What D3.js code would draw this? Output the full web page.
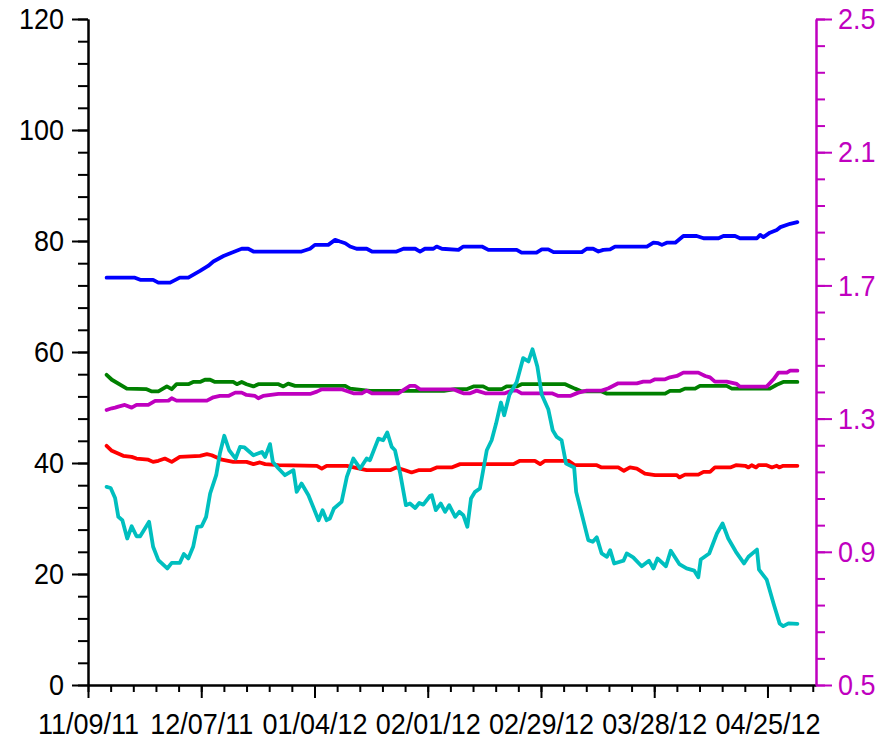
<!DOCTYPE html>
<html>
<head>
<meta charset="utf-8">
<script src="https://cdn.jsdelivr.net/npm/d3@7"></script>
<style>
  html, body { margin: 0; padding: 0; background: #fff; }
  svg { display: block; }
  text { font-family: "Liberation Sans", Arial, sans-serif; }
</style>
</head>
<body>
<svg id="chart" width="885" height="741"></svg>
<script>
// ---- data (day offset from 11/09/11, value) ----
const startDate = "2011-11-09";
const spanDays = 180;
const xTickDays = [0, 28, 56, 84, 112, 140, 168];
const leftTicks = [0, 20, 40, 60, 80, 100, 120];
const rightTicks = [0.5, 0.9, 1.3, 1.7, 2.1, 2.5];

const blueSeries = [
  [4.6,73.4],[11.6,73.4],[12.9,73.0],[16.1,73.0],[17.4,72.5],[20.3,72.5],[22.7,73.4],[24.8,73.4],
  [27.7,74.6],[29.7,75.5],[31.0,76.3],[33.5,77.3],[35.5,77.9],[38.0,78.6],[39.6,78.6],[40.9,78.1],
  [52.8,78.1],[54.9,78.6],[56.1,79.3],[59.4,79.3],[61.1,80.2],[62.3,79.9],[63.6,79.6],[64.8,79.0],
  [66.4,78.6],[68.9,78.6],[70.2,78.1],[76.3,78.1],[78.0,78.6],[80.9,78.6],[82.1,78.1],[83.3,78.6],
  [85.4,78.6],[86.2,79.0],[87.5,78.6],[91.6,78.4],[92.8,79.0],[97.4,79.0],[99.0,78.4],[106.0,78.4],
  [107.2,77.9],[110.9,77.9],[112.2,78.5],[113.8,78.5],[115.1,78.0],[122.1,78.0],[123.3,78.6],
  [124.9,78.6],[126.2,78.1],[127.4,78.4],[129.1,78.5],[130.3,79.0],[138.2,79.0],[139.8,79.7],
  [141.0,79.6],[141.9,79.3],[143.1,79.7],[145.2,79.7],[147.2,80.9],[150.5,80.9],[152.2,80.5],
  [155.9,80.5],[157.1,80.9],[160.0,80.9],[161.2,80.5],[165.4,80.5],[166.2,81.1],[167.0,80.7],
  [168.6,81.5],[170.3,82.0],[171.2,82.5],[173.6,83.1],[175.4,83.4]
];

const greenSeries = [
  [4.6,55.9],[5.9,55.0],[9.6,53.4],[14.5,53.3],[15.8,52.9],[17.4,52.9],[19.5,53.8],[20.7,53.3],
  [21.9,54.2],[24.8,54.2],[26.0,54.6],[27.7,54.6],[28.9,55.0],[30.2,55.0],[31.4,54.6],[35.9,54.6],
  [36.8,54.2],[38.0,54.6],[39.2,54.2],[40.9,53.8],[42.1,54.2],[47.1,54.2],[48.3,53.8],[49.5,54.3],
  [51.2,53.9],[63.6,53.9],[64.8,53.4],[69.7,53.0],[88.0,53.0],[90.8,53.3],[93.6,53.3],[95.3,53.8],
  [97.7,53.8],[99.0,53.3],[102.3,53.3],[103.5,53.8],[106.0,53.8],[107.2,54.2],[118.0,54.2],
  [119.2,53.8],[120.4,53.4],[122.1,52.9],[127.0,52.9],[128.3,52.5],[142.7,52.5],[143.9,53.0],
  [146.4,53.0],[147.6,53.4],[150.1,53.4],[151.3,53.9],[157.9,53.9],[159.2,53.4],[168.6,53.4],
  [170.3,54.1],[171.9,54.6],[175.4,54.6]
];

const redSeries = [
  [4.6,43.1],[5.9,42.2],[8.7,41.3],[10.8,41.1],[12.0,40.8],[14.9,40.6],[16.1,40.2],[17.4,40.4],
  [19.0,40.8],[20.7,40.2],[22.7,41.1],[27.7,41.3],[29.4,41.6],[30.6,41.4],[33.1,40.6],[35.9,40.2],
  [39.2,40.2],[40.9,39.8],[42.5,40.1],[43.8,39.8],[47.1,39.6],[56.6,39.5],[57.8,39.0],[59.0,39.5],
  [64.0,39.5],[68.9,38.7],[74.7,38.7],[76.2,39.2],[78.4,38.7],[80.0,38.3],[81.7,38.7],[84.6,38.7],
  [86.2,39.2],[89.9,39.2],[92.0,39.8],[105.2,39.8],[106.8,40.4],[110.5,40.4],[111.8,39.8],
  [113.0,40.4],[118.8,40.4],[120.4,39.6],[125.8,39.6],[127.0,39.2],[131.1,39.2],[132.5,38.6],
  [134.0,39.2],[135.7,39.0],[137.7,38.1],[140.2,37.8],[145.6,37.8],[146.2,37.4],[147.6,37.9],
  [150.9,37.9],[152.2,38.4],[153.8,38.4],[155.0,39.2],[158.8,39.2],[160.2,39.6],[162.5,39.5],
  [163.3,39.2],[164.1,39.6],[165.2,39.2],[165.8,39.6],[167.8,39.6],[169.1,39.2],[170.3,39.5],
  [170.9,39.2],[171.9,39.5],[175.4,39.5]
];

const cyanSeries = [
  [4.6,35.7],[5.6,35.5],[6.7,33.7],[7.5,30.3],[8.5,29.7],[9.7,26.4],[10.8,28.6],[12.0,26.8],
  [12.9,26.8],[15.1,29.4],[16.1,24.9],[17.4,22.5],[19.6,21.0],[20.7,22.0],[22.7,22.0],[23.7,23.6],
  [24.8,22.8],[26.0,24.9],[27.0,28.5],[28.1,28.6],[29.2,30.3],[30.2,34.5],[31.7,37.8],[32.6,41.7],
  [33.7,44.9],[34.9,42.3],[36.5,40.8],[37.6,42.9],[38.7,42.8],[40.9,41.4],[42.0,41.7],[43.0,42.0],
  [43.8,41.1],[45.0,43.4],[45.7,40.2],[47.1,39.0],[48.7,37.8],[50.8,38.7],[51.6,34.8],[52.8,36.3],
  [54.5,34.2],[57.0,29.7],[58.0,31.5],[59.0,29.7],[59.8,30.0],[60.8,31.8],[62.7,33.0],[64.0,37.5],
  [65.6,40.8],[67.3,39.0],[68.9,40.8],[69.7,40.5],[71.8,44.4],[73.0,44.1],[74.0,45.5],[75.1,42.9],
  [75.9,42.3],[77.2,38.1],[78.6,32.4],[79.6,32.7],[80.9,31.9],[81.9,32.8],[82.9,32.5],[84.6,34.1],
  [85.0,34.2],[86.0,31.5],[87.2,32.7],[88.3,31.2],[89.3,32.4],[90.8,30.3],[91.8,31.2],[92.8,30.6],
  [93.8,28.5],[94.7,33.6],[95.7,34.8],[96.9,35.4],[98.6,42.3],[99.8,44.1],[100.9,47.1],[102.1,50.9],
  [102.9,48.6],[104.2,52.3],[106.0,54.6],[107.6,58.9],[108.9,58.3],[109.9,60.5],[111.1,57.4],
  [112.2,52.3],[113.8,49.7],[114.9,45.9],[115.9,44.7],[117.1,44.1],[118.2,39.9],[120.2,39.2],
  [120.7,34.8],[123.7,26.1],[124.8,25.8],[125.8,26.6],[127.0,23.7],[128.3,23.1],[129.1,24.3],
  [130.1,21.9],[132.4,22.4],[133.2,23.7],[134.8,23.0],[136.9,21.4],[138.7,22.4],[139.8,21.0],
  [140.8,22.8],[142.9,21.4],[144.1,24.2],[146.2,21.8],[148.0,21.0],[149.9,20.6],[150.9,19.4],
  [151.5,22.6],[153.6,23.7],[155.5,27.3],[156.9,29.1],[158.3,26.4],[160.2,24.0],[162.2,21.9],
  [163.3,23.1],[165.4,24.4],[165.9,20.8],[167.8,19.0],[169.5,14.7],[171.0,11.1],[171.9,10.6],
  [173.2,11.1],[175.4,11.0]
];

// right axis series
const magentaSeries = [
  [4.6,1.326],[5.9,1.331],[6.7,1.333],[7.5,1.336],[9.1,1.341],[10.8,1.333],[12.0,1.341],[14.9,1.341],
  [16.6,1.353],[19.9,1.354],[20.7,1.361],[21.9,1.354],[29.4,1.354],[31.0,1.364],[32.6,1.368],
  [34.7,1.368],[36.4,1.378],[38.0,1.378],[39.2,1.371],[41.3,1.368],[42.1,1.361],[43.3,1.368],
  [47.1,1.374],[54.9,1.374],[56.6,1.381],[57.8,1.388],[62.7,1.388],[65.6,1.376],[67.7,1.376],
  [68.9,1.384],[70.2,1.376],[76.7,1.376],[79.6,1.398],[80.9,1.398],[82.1,1.388],[90.3,1.388],
  [91.8,1.381],[92.8,1.376],[94.5,1.376],[96.1,1.384],[98.2,1.376],[103.1,1.376],[104.8,1.384],
  [106.0,1.384],[107.2,1.376],[114.7,1.376],[116.3,1.368],[119.2,1.368],[121.2,1.378],[123.3,1.384],
  [127.0,1.384],[128.7,1.391],[131.1,1.406],[135.7,1.406],[137.3,1.411],[139.0,1.411],[140.2,1.418],
  [142.7,1.418],[143.9,1.424],[145.6,1.428],[147.2,1.438],[150.9,1.438],[152.6,1.428],[153.8,1.424],
  [155.0,1.411],[157.9,1.411],[160.4,1.404],[161.2,1.396],[167.8,1.396],[169.5,1.418],[170.7,1.438],
  [172.8,1.438],[173.6,1.444],[175.4,1.444]
];

// ---- drawing ----
const svg = d3.select("#chart");
const mLeft = 88, mRight = 816, mTop = 19, mBottom = 685;
const DAY = 86400000;
const t0 = new Date(startDate + "T00:00:00Z");
const toDate = d => new Date(t0.getTime() + d * DAY);

const x = d3.scaleUtc().domain([t0, toDate(spanDays)]).range([mLeft, mRight]);
const yL = d3.scaleLinear().domain([0, 120]).range([mBottom, mTop]);
const yR = d3.scaleLinear().domain([0.5, 2.5]).range([mBottom, mTop]);

const FONT = 30;
const SX = 0.9;   // horizontal glyph compression to match the reference face
const magenta = "#bf00bf";

// minor tick values
const xMinor = d3.range(0, spanDays + 0.001, 5.6).map(toDate);
const yLMinor = d3.range(0, 120.001, 4);
const yRMinor = d3.range(0, 26).map(i => 0.5 + i * 0.08);

function styleAxis(g, color) {
  g.selectAll("path.domain").attr("stroke", color).attr("stroke-width", 2);
  g.selectAll(".tick line").attr("stroke", color).attr("stroke-width", 2);
  g.selectAll(".tick text").attr("fill", color).style("font-size", FONT + "px")
    .style("font-family", '"Liberation Sans", Arial, sans-serif')
    .each(function() {
      const t = d3.select(this);
      const tx = +t.attr("x") || 0;
      t.attr("transform", `translate(${tx * (1 - SX)},0) scale(${SX},1)`);
    });
}

// X axis
const gxMinor = svg.append("g").attr("transform", `translate(0,${mBottom})`)
  .call(d3.axisBottom(x).tickValues(xMinor).tickSize(7).tickSizeOuter(0).tickFormat(""));
styleAxis(gxMinor, "#000");
const gx = svg.append("g").attr("transform", `translate(0,${mBottom})`)
  .call(d3.axisBottom(x).tickValues(xTickDays.map(toDate)).tickSize(13).tickSizeOuter(0)
    .tickPadding(15).tickFormat(d3.utcFormat("%m/%d/%y")));
styleAxis(gx, "#000");

// Left axis
const gyMinor = svg.append("g").attr("transform", `translate(${mLeft},0)`)
  .call(d3.axisLeft(yL).tickValues(yLMinor).tickSize(10).tickSizeOuter(0).tickFormat(""));
styleAxis(gyMinor, "#000");
const gy = svg.append("g").attr("transform", `translate(${mLeft},0)`)
  .call(d3.axisLeft(yL).tickValues(leftTicks).tickSize(16).tickSizeOuter(0).tickPadding(8)
    .tickFormat(d3.format("d")));
styleAxis(gy, "#000");

// Right axis
const grMinor = svg.append("g").attr("transform", `translate(${mRight},0)`)
  .call(d3.axisRight(yR).tickValues(yRMinor).tickSize(9).tickSizeOuter(0).tickFormat(""));
styleAxis(grMinor, magenta);
const gr = svg.append("g").attr("transform", `translate(${mRight},0)`)
  .call(d3.axisRight(yR).tickValues(rightTicks).tickSize(16).tickSizeOuter(0).tickPadding(6)
    .tickFormat(d3.format(".1f")));
styleAxis(gr, magenta);

// lines
const lineL = d3.line().x(d => x(toDate(d[0]))).y(d => yL(d[1]));
const lineR = d3.line().x(d => x(toDate(d[0]))).y(d => yR(d[1]));

const seriesDefs = [
  { data: blueSeries, color: "#0000ff", gen: lineL },
  { data: greenSeries, color: "#008000", gen: lineL },
  { data: redSeries, color: "#ff0000", gen: lineL },
  { data: magentaSeries, color: magenta, gen: lineR },
  { data: cyanSeries, color: "#00bfbf", gen: lineL }
];

svg.append("g").selectAll("path").data(seriesDefs).join("path")
  .attr("d", s => s.gen(s.data))
  .attr("fill", "none")
  .attr("stroke", s => s.color)
  .attr("stroke-width", 3.8)
  .attr("stroke-linejoin", "round")
  .attr("stroke-linecap", "round");
</script>
</body>
</html>
